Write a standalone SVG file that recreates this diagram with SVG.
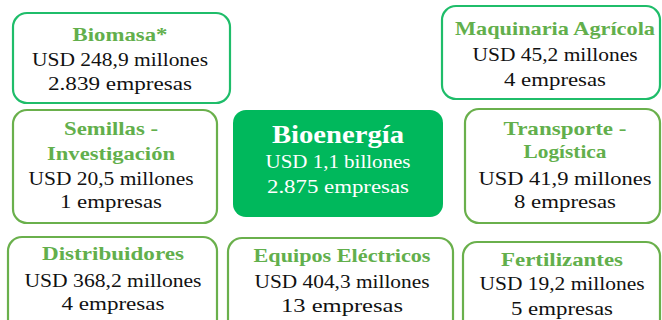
<svg xmlns="http://www.w3.org/2000/svg" width="662" height="320" viewBox="0 0 662 320">
<style>
.box{fill:#fff;stroke:#6AB04C;stroke-width:2.2}
.box2{fill:#fff;stroke:#1FBD6A;stroke-width:2.2}
.core{fill:#00B85C}
text{font-family:"Liberation Serif","Times New Roman",serif;text-anchor:middle}
.t{font-weight:bold;fill:#62AF4C;font-size:19px}
.v{fill:#111;font-size:19px}
.ct{font-weight:bold;fill:#fff;font-size:25px}
.cv{fill:#fff;font-size:19px}
</style>
<rect width="662" height="320" fill="#fff"/>
<g id="connectors"></g>
<g id="biomasa">
<rect class="box2" x="13" y="13" width="217" height="90" rx="14"/>
<text class="t" x="120" y="41" textLength="95" lengthAdjust="spacingAndGlyphs">Biomasa*</text>
<text class="v" x="120" y="66" textLength="176" lengthAdjust="spacingAndGlyphs">USD 248,9 millones</text>
<text class="v" x="120" y="90" textLength="144" lengthAdjust="spacingAndGlyphs">2.839 empresas</text>
</g>
<g id="maquinaria">
<rect class="box2" x="442" y="6" width="218" height="93" rx="14"/>
<text class="t" x="555" y="35" textLength="200" lengthAdjust="spacingAndGlyphs">Maquinaria Agrícola</text>
<text class="v" x="555" y="61" textLength="165" lengthAdjust="spacingAndGlyphs">USD 45,2 millones</text>
<text class="v" x="555" y="86" textLength="102" lengthAdjust="spacingAndGlyphs">4 empresas</text>
</g>
<g id="semillas">
<rect class="box" x="13" y="110" width="204" height="113" rx="14"/>
<text class="t" x="111" y="135" textLength="94" lengthAdjust="spacingAndGlyphs">Semillas -</text>
<text class="t" x="111" y="160" textLength="128" lengthAdjust="spacingAndGlyphs">Investigación</text>
<text class="v" x="111" y="185" textLength="165" lengthAdjust="spacingAndGlyphs">USD 20,5 millones</text>
<text class="v" x="111" y="208" textLength="102" lengthAdjust="spacingAndGlyphs">1 empresas</text>
</g>
<g id="bioenergia">
<rect class="core" x="233" y="110" width="210" height="107" rx="13"/>
<text class="ct" x="338" y="143" textLength="132" lengthAdjust="spacingAndGlyphs">Bioenergía</text>
<text class="cv" x="338" y="168" textLength="145" lengthAdjust="spacingAndGlyphs">USD 1,1 billones</text>
<text class="cv" x="338" y="193" textLength="142" lengthAdjust="spacingAndGlyphs">2.875 empresas</text>
</g>
<g id="transporte">
<rect class="box" x="465" y="109" width="195" height="114" rx="14"/>
<text class="t" x="565" y="135" textLength="123" lengthAdjust="spacingAndGlyphs">Transporte -</text>
<text class="t" x="565" y="158" textLength="83" lengthAdjust="spacingAndGlyphs">Logística</text>
<text class="v" x="565" y="185" textLength="173" lengthAdjust="spacingAndGlyphs">USD 41,9 millones</text>
<text class="v" x="565" y="208" textLength="102" lengthAdjust="spacingAndGlyphs">8 empresas</text>
</g>
<g id="distribuidores">
<rect class="box" x="8" y="237" width="209" height="100" rx="14"/>
<text class="t" x="113" y="260" textLength="142" lengthAdjust="spacingAndGlyphs">Distribuidores</text>
<text class="v" x="113" y="287" textLength="177" lengthAdjust="spacingAndGlyphs">USD 368,2 millones</text>
<text class="v" x="113" y="310" textLength="103" lengthAdjust="spacingAndGlyphs">4 empresas</text>
</g>
<g id="equipos">
<rect class="box" x="228" y="238" width="225" height="100" rx="14"/>
<text class="t" x="342" y="262" textLength="177" lengthAdjust="spacingAndGlyphs">Equipos Eléctricos</text>
<text class="v" x="342" y="288" textLength="175" lengthAdjust="spacingAndGlyphs">USD 404,3 millones</text>
<text class="v" x="342" y="312" textLength="122" lengthAdjust="spacingAndGlyphs">13 empresas</text>
</g>
<g id="fertilizantes">
<rect class="box" x="463" y="242" width="197" height="100" rx="14"/>
<text class="t" x="562" y="266" textLength="122" lengthAdjust="spacingAndGlyphs">Fertilizantes</text>
<text class="v" x="562" y="290" textLength="165" lengthAdjust="spacingAndGlyphs">USD 19,2 millones</text>
<text class="v" x="562" y="315" textLength="102" lengthAdjust="spacingAndGlyphs">5 empresas</text>
</g>
</svg>
